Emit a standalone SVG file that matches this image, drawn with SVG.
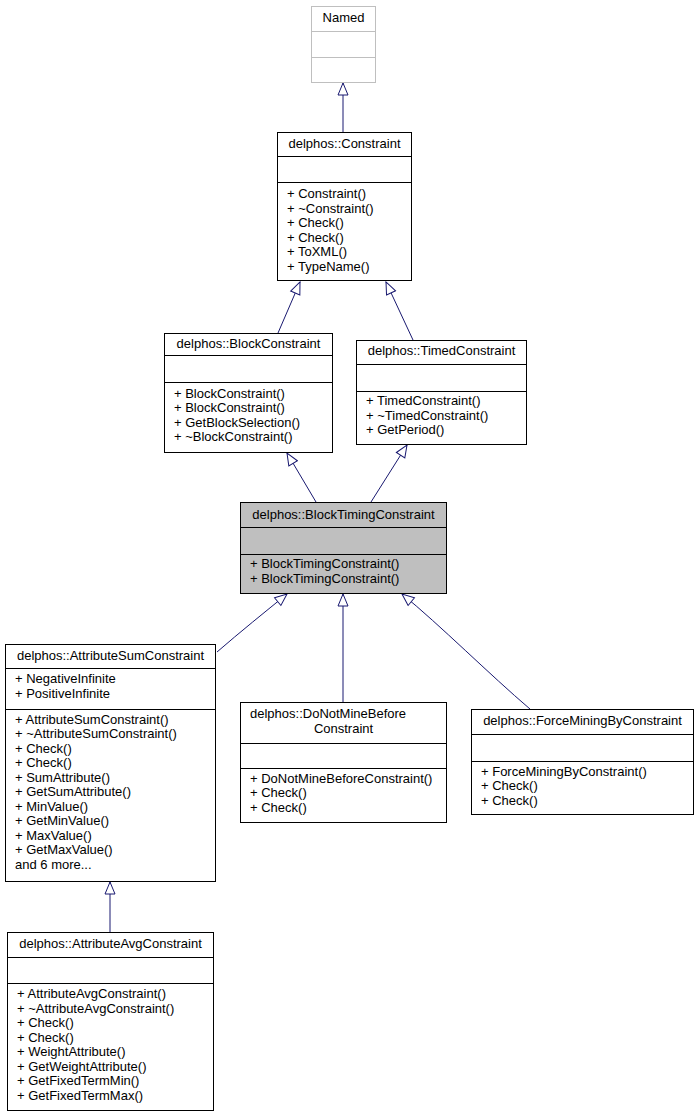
<svg xmlns="http://www.w3.org/2000/svg" width="699" height="1117" viewBox="0 0 699 1117">
<style>
rect{fill:#fff;stroke:#000;stroke-width:1}
.gray rect{stroke:#bfbfbf}
.gray line{stroke:#bfbfbf}
.hl rect{fill:#bfbfbf}
line{stroke:#000;stroke-width:1}
text{font-family:"Liberation Sans",Arial,Helvetica,sans-serif;font-size:13px;fill:#000}
.c{text-anchor:middle}
.e path{fill:none;stroke:#191970;stroke-width:1}
</style>
<defs>
<marker id="tri" viewBox="0 0 14 12" refX="13" refY="6" markerWidth="14" markerHeight="12" markerUnits="userSpaceOnUse" orient="auto">
<path d="M1,1 L13,6 L1,11 Z" fill="#fff" stroke="#191970" stroke-width="1"/>
</marker>
</defs>
<g class="e" id="edges">
<path d="M343,132 L343,83" marker-end="url(#tri)"/>
<path d="M278,333 L300,282" marker-end="url(#tri)"/>
<path d="M413,340 L386,282" marker-end="url(#tri)"/>
<path d="M316,502 L287,453" marker-end="url(#tri)"/>
<path d="M371,502 L407,445" marker-end="url(#tri)"/>
<path d="M217,652 C240,632 265,612 287,594" marker-end="url(#tri)"/>
<path d="M343,702 L343,594" marker-end="url(#tri)"/>
<path d="M530,709 C490,675 440,625 402,594" marker-end="url(#tri)"/>
<path d="M110,932 L110,882" marker-end="url(#tri)"/>
</g>
<g id="Named" class="gray">
<rect x="311.5" y="6.5" width="64" height="76"/>
<line x1="311.5" y1="31.5" x2="375.5" y2="31.5"/>
<line x1="311.5" y1="57.5" x2="375.5" y2="57.5"/>
<text x="343.5" y="22" class="c">Named</text>
</g>
<g id="Constraint">
<rect x="277.5" y="132.5" width="134" height="148"/>
<line x1="277.5" y1="156.5" x2="411.5" y2="156.5"/>
<line x1="277.5" y1="182.5" x2="411.5" y2="182.5"/>
<text x="344.5" y="148" class="c">delphos::Constraint</text>
<text x="287" y="198">+ Constraint()</text>
<text x="287" y="213">+ ~Constraint()</text>
<text x="287" y="227">+ Check()</text>
<text x="287" y="242">+ Check()</text>
<text x="287" y="256">+ ToXML()</text>
<text x="287" y="271">+ TypeName()</text>
</g>
<g id="BlockConstraint">
<rect x="164.5" y="333.5" width="168" height="119"/>
<line x1="164.5" y1="355.5" x2="332.5" y2="355.5"/>
<line x1="164.5" y1="382.5" x2="332.5" y2="382.5"/>
<text x="248.5" y="348" class="c">delphos::BlockConstraint</text>
<text x="174" y="398">+ BlockConstraint()</text>
<text x="174" y="412">+ BlockConstraint()</text>
<text x="174" y="427">+ GetBlockSelection()</text>
<text x="174" y="441">+ ~BlockConstraint()</text>
</g>
<g id="TimedConstraint">
<rect x="356.5" y="340.5" width="170" height="104"/>
<line x1="356.5" y1="364.5" x2="526.5" y2="364.5"/>
<line x1="356.5" y1="391.5" x2="526.5" y2="391.5"/>
<text x="441.5" y="355" class="c">delphos::TimedConstraint</text>
<text x="366" y="405">+ TimedConstraint()</text>
<text x="366" y="420">+ ~TimedConstraint()</text>
<text x="366" y="434">+ GetPeriod()</text>
</g>
<g id="BlockTimingConstraint" class="hl">
<rect x="240.5" y="502.5" width="206" height="91"/>
<line x1="240.5" y1="527.5" x2="446.5" y2="527.5"/>
<line x1="240.5" y1="554.5" x2="446.5" y2="554.5"/>
<text x="343.5" y="519" class="c">delphos::BlockTimingConstraint</text>
<text x="250" y="568">+ BlockTimingConstraint()</text>
<text x="250" y="583">+ BlockTimingConstraint()</text>
</g>
<g id="AttributeSumConstraint">
<rect x="5.5" y="644.5" width="210" height="237"/>
<line x1="5.5" y1="668.5" x2="215.5" y2="668.5"/>
<line x1="5.5" y1="709.5" x2="215.5" y2="709.5"/>
<text x="110.5" y="660" class="c">delphos::AttributeSumConstraint</text>
<text x="15" y="683">+ NegativeInfinite</text>
<text x="15" y="698">+ PositiveInfinite</text>
<text x="15" y="724">+ AttributeSumConstraint()</text>
<text x="15" y="738">+ ~AttributeSumConstraint()</text>
<text x="15" y="753">+ Check()</text>
<text x="15" y="767">+ Check()</text>
<text x="15" y="782">+ SumAttribute()</text>
<text x="15" y="796">+ GetSumAttribute()</text>
<text x="15" y="811">+ MinValue()</text>
<text x="15" y="825">+ GetMinValue()</text>
<text x="15" y="840">+ MaxValue()</text>
<text x="15" y="854">+ GetMaxValue()</text>
<text x="15" y="869">and 6 more...</text>
</g>
<g id="DoNotMineBeforeConstraint">
<rect x="240.5" y="702.5" width="206" height="120"/>
<line x1="240.5" y1="743.5" x2="446.5" y2="743.5"/>
<line x1="240.5" y1="768.5" x2="446.5" y2="768.5"/>
<text x="250" y="718">delphos::DoNotMineBefore</text>
<text x="343.5" y="733" class="c">Constraint</text>
<text x="250" y="783">+ DoNotMineBeforeConstraint()</text>
<text x="250" y="797">+ Check()</text>
<text x="250" y="812">+ Check()</text>
</g>
<g id="ForceMiningByConstraint">
<rect x="471.5" y="709.5" width="222" height="105"/>
<line x1="471.5" y1="734.5" x2="693.5" y2="734.5"/>
<line x1="471.5" y1="761.5" x2="693.5" y2="761.5"/>
<text x="582.5" y="725" class="c">delphos::ForceMiningByConstraint</text>
<text x="481" y="776">+ ForceMiningByConstraint()</text>
<text x="481" y="790">+ Check()</text>
<text x="481" y="805">+ Check()</text>
</g>
<g id="AttributeAvgConstraint">
<rect x="7.5" y="932.5" width="206" height="178"/>
<line x1="7.5" y1="957.5" x2="213.5" y2="957.5"/>
<line x1="7.5" y1="983.5" x2="213.5" y2="983.5"/>
<text x="110.5" y="948" class="c">delphos::AttributeAvgConstraint</text>
<text x="17" y="998">+ AttributeAvgConstraint()</text>
<text x="17" y="1013">+ ~AttributeAvgConstraint()</text>
<text x="17" y="1027">+ Check()</text>
<text x="17" y="1042">+ Check()</text>
<text x="17" y="1056">+ WeightAttribute()</text>
<text x="17" y="1071">+ GetWeightAttribute()</text>
<text x="17" y="1085">+ GetFixedTermMin()</text>
<text x="17" y="1100">+ GetFixedTermMax()</text>
</g>
</svg>
